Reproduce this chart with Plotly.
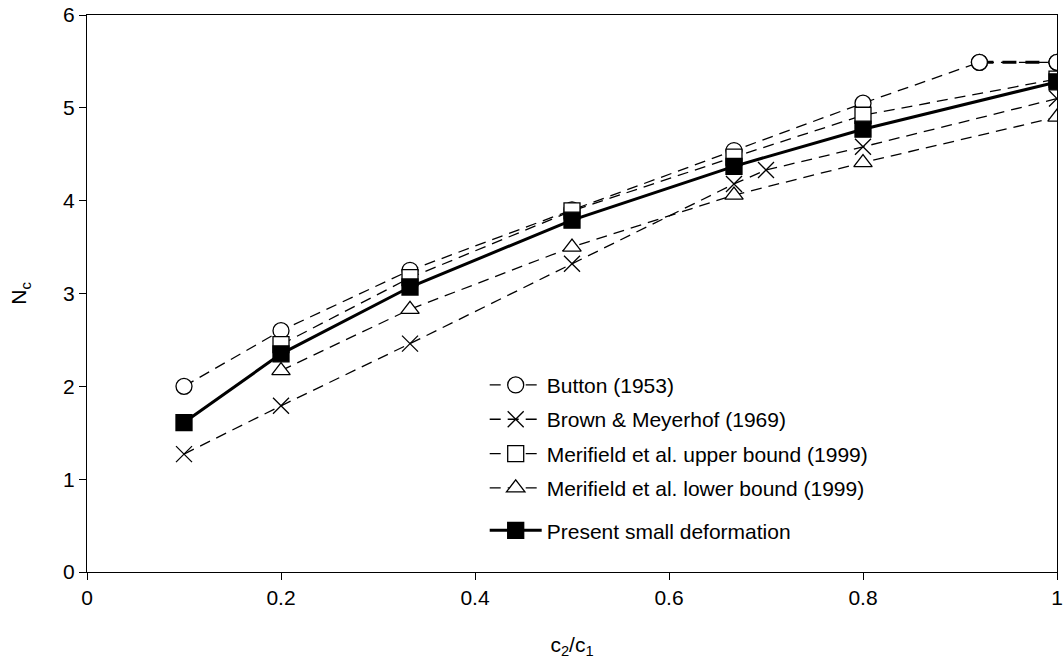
import plotly.graph_objects as go

# Bearing capacity factor N_c versus strength ratio c2/c1
button_x = [0.1, 0.2, 0.333, 0.5, 0.667, 0.8, 0.92, 1.0]
button_y = [2.0, 2.6, 3.25, 3.9, 4.54, 5.05, 5.49, 5.49]

brown_x = [0.1, 0.2, 0.333, 0.5, 0.667, 0.7, 0.8, 1.0]
brown_y = [1.27, 1.79, 2.46, 3.32, 4.18, 4.33, 4.58, 5.1]

upper_x = [0.2, 0.333, 0.5, 0.667, 0.8, 1.0]
upper_y = [2.45, 3.17, 3.89, 4.47, 4.92, 5.31]

lower_x = [0.2, 0.333, 0.5, 0.667, 0.8, 1.0]
lower_y = [2.17, 2.83, 3.5, 4.06, 4.41, 4.9]

present_x = [0.1, 0.2, 0.333, 0.5, 0.667, 0.8, 1.0]
present_y = [1.61, 2.35, 3.07, 3.79, 4.37, 4.77, 5.28]

FONT = "Arial, Liberation Sans, sans-serif"
FS = 21
DASH = "11px,7px"

fig = go.Figure()


def add_series(x, y, name, symbol, fill, width, dash, group, legend="legend"):
    fig.add_trace(go.Scatter(
        x=x, y=y, name=name, mode="lines+markers",
        legendgroup=group, legend=legend,
        line=dict(color="black", width=width, dash=dash),
        marker=dict(symbol=symbol, size=16, color=fill,
                    line=dict(color="black", width=1.3)),
    ))


add_series(button_x, button_y, "Button (1953)", "circle", "white", 1.3, DASH, "a")
# the final Button segment is drawn heavier
fig.add_trace(go.Scatter(
    x=button_x[-2:], y=button_y[-2:], mode="lines+markers", showlegend=False,
    legendgroup="a",
    line=dict(color="black", width=3, dash="14px,9px"),
    marker=dict(symbol="circle", size=16, color="white",
                line=dict(color="black", width=1.3)),
))
add_series(brown_x, brown_y, "Brown & Meyerhof (1969)", "x-thin", "black", 1.3, DASH, "b")
add_series(upper_x, upper_y, "Merifield et al. upper bound (1999)", "square", "white", 1.3, DASH, "c")
add_series(lower_x, lower_y, "Merifield et al. lower bound (1999)", "triangle-up", "white", 1.3, DASH, "d")
add_series(present_x, present_y, "Present small deformation", "square", "black", 3, "solid", "e",
           legend="legend2")

axis_common = dict(
    showline=True, linecolor="black", linewidth=1.3, mirror=True,
    ticks="outside", ticklen=7, tickwidth=1, tickcolor="black",
    showgrid=False, zeroline=False, automargin=False,
    tickfont=dict(family=FONT, size=FS, color="black"),
)

fig.update_xaxes(range=[0, 1], tickvals=[0, 0.2, 0.4, 0.6, 0.8, 1],
                 ticktext=["0", "0.2", "0.4", "0.6", "0.8", "1"],
                 title=dict(text="c<sub>2</sub>/c<sub>1</sub>",
                            font=dict(family=FONT, size=FS, color="black"),
                            standoff=28),
                 **axis_common)
fig.update_yaxes(range=[0, 6], dtick=1,
                 title=dict(text="N<sub>c</sub>",
                            font=dict(family=FONT, size=FS, color="black"),
                            standoff=30),
                 **axis_common)

legend_style = dict(
    xanchor="left", yanchor="top",
    bgcolor="rgba(0,0,0,0)", borderwidth=0,
    traceorder="grouped", tracegroupgap=4,
    font=dict(family=FONT, size=FS, color="black"),
    itemwidth=52,
)

fig.update_layout(
    width=1064, height=662,
    margin=dict(l=87, r=7, t=15, b=90),
    paper_bgcolor="white", plot_bgcolor="white",
    font=dict(family=FONT, size=FS, color="black"),
    legend=dict(x=0.41, y=0.372, **legend_style),
    legend2=dict(x=0.41, y=0.111, **legend_style),
    showlegend=True,
)

fig.write_html("out.html")
